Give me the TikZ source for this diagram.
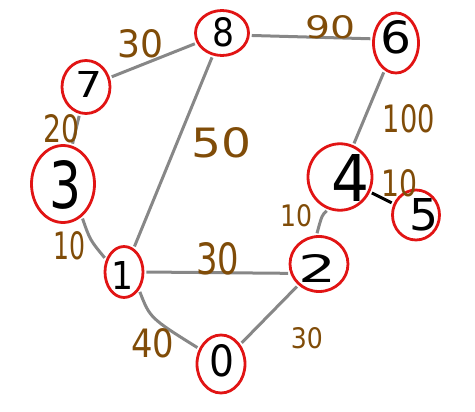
\documentclass[tikz,border=0pt]{standalone}
\usepackage{fontspec}
\usepackage{graphicx}
\setmainfont{DejaVu Sans}
\usetikzlibrary{shapes.geometric}
\definecolor{ringred}{RGB}{225,20,20}
\definecolor{edgegray}{RGB}{135,135,135}
\definecolor{wbrown}{RGB}{128,76,8}
% digit: dx, dy (down), width, height, text
\newcommand{\dg}[5]{\makebox[0pt]{\kern#1pt\kern#1pt\raisebox{-#2pt}[#4pt][0pt]{\resizebox{#3pt}{#4pt}{#5}}}}
\newcommand{\wt}[3]{\resizebox{#1pt}{#2pt}{#3}}
\tikzset{
  vert/.style={ellipse, draw=ringred, line width=2.8pt, inner sep=0pt, text=black},
  edge/.style={draw=edgegray, line width=3pt, shorten <=2pt, shorten >=2pt},
  wlabel/.style={text=wbrown, inner sep=0pt}
}
\begin{document}
\begin{tikzpicture}[x=1pt,y=-1pt]
\useasboundingbox (0,0) rectangle (475,412);
% vertices
\node[vert, minimum width=53pt, minimum height=45pt] (n8) at (222,33) {\dg{2}{-1}{22}{29}{8}};
\node[vert, minimum width=45pt, minimum height=60pt] (n6) at (396,43) {\dg{0}{-6}{31}{33}{6}};
\node[vert, minimum width=48pt, minimum height=53pt] (n7) at (86,87) {\dg{3}{-2}{27}{26}{7}};
\node[vert, minimum width=63pt, minimum height=77pt] (n3) at (63,184) {\dg{3}{0}{32}{48}{3}};
\node[vert, minimum width=38pt, minimum height=51pt] (n1) at (124,272) {\dg{-1}{4}{22}{28}{1}};
\node[vert, minimum width=48pt, minimum height=58pt] (n0) at (221,364) {\dg{1}{-3}{25}{32}{0}};
\node[vert, minimum width=58pt, minimum height=55pt] (n2) at (319,264) {\dg{-1}{5}{38}{28}{2}};
\node[vert, minimum width=64pt, minimum height=60pt] (n4) at (340,177) {\dg{11}{1}{38}{47}{4}};
\node[vert, minimum width=47pt, minimum height=50pt] (n5) at (416,215) {\dg{8}{-1}{29}{32}{5}};
% edges
\draw[edge] (n7) -- (n8);
\draw[edge] (n7) -- (n3);
\draw[edge] (n3.-60) .. controls (90,240) .. (n1.145);
\draw[edge] (n1) -- (n8);
\draw[edge] (n8.-5) -- (n6.170);
\draw[edge] (n6) -- (n4);
\draw[edge, draw=black] (n4) -- (n5);
\draw[edge] (n4.-110) .. controls (322,215) .. (n2.95);
\draw[edge] (n1.east) -- (n2.198);
\draw[edge] (n2) -- (n0);
\draw[edge] (n1.-50) .. controls (150,318) .. (n0.145);
% weights
\node[wlabel] (w78) at (141,44) {\wt{46}{28}{30}};
\node[wlabel] (w73) at (62,129) {\wt{36}{28}{20}};
\node[wlabel] (w18) at (222,143) {\wt{60}{30}{50}};
\node[wlabel] (w86) at (331,27) {\wt{50}{23}{90}};
\node[wlabel] (w64) at (409,119) {\wt{52}{28}{100}};
\node[wlabel] (w45) at (400,183) {\wt{36}{27}{10}};
\node[wlabel] (w42) at (297,216) {\wt{32}{22}{10}};
\node[wlabel] (w31) at (70,246) {\wt{32}{28}{10}};
\node[wlabel] (w12) at (218,259) {\wt{43}{32}{30}};
\node[wlabel] (w10) at (153,343) {\wt{43}{29}{40}};
\node[wlabel] (w20) at (307,338) {\wt{32}{21}{30}};
\end{tikzpicture}
\end{document}
